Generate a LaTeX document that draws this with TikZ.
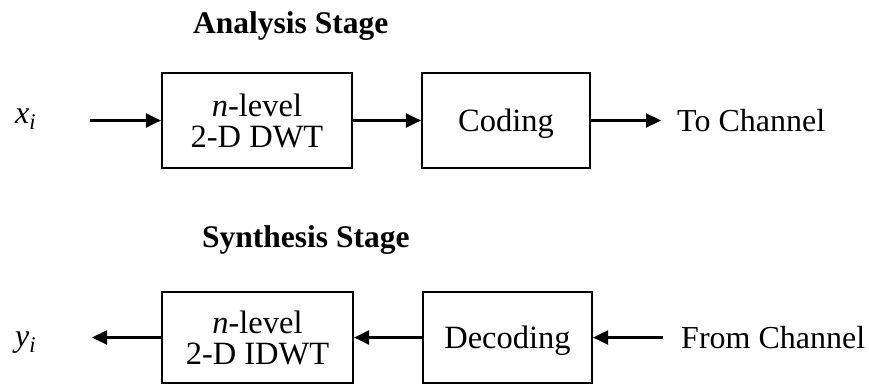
\documentclass[tikz,border=0pt]{standalone}
\usepackage{fontspec}
\setmainfont{Liberation Serif}
\usetikzlibrary{arrows.meta}
\begin{document}
\begin{tikzpicture}[x=1pt,y=-1pt,
  block/.style={draw, line width=2.2pt, inner sep=0pt, align=center,
    font=\fontsize{32.5}{31}\selectfont},
  oneline/.style={text depth=0pt},
  lbl/.style={inner sep=0pt, font=\fontsize{32}{36}\selectfont},
  title/.style={inner sep=0pt, font=\fontsize{31.5}{36}\selectfont\bfseries},
  flow/.style={line width=2.2pt, -{Triangle[length=15pt,width=14pt]}}]
\useasboundingbox (0,0) rectangle (869,388);

% analysis stage
\node[title, anchor=base west] (atitle) at (193,33) {Analysis Stage};
\node[block, minimum width=190pt, minimum height=95pt] (dwt) at (257,120.5) {\textit{n}-level\\2-D DWT};
\node[block, oneline, minimum width=168pt, minimum height=95pt] (cod) at (506,120.5) {Coding};
\node[lbl, anchor=base west] (xi) at (15,123) {\textit{x}\textsubscript{\textit{i}}};
\node[lbl, anchor=base west] (tochan) at (677,131) {To Channel};
\coordinate (xin) at (90,120.5);
\coordinate (xout) at (661,120.5);
\draw[flow] (xin) -- (dwt.west);
\draw[flow] (dwt.east) -- (cod.west);
\draw[flow] (cod.east) -- (xout);

% synthesis stage
\node[title, anchor=base west] (stitle) at (202,247) {Synthesis Stage};
\node[block, minimum width=191pt, minimum height=91pt] (idwt) at (257.5,337.5) {\textit{n}-level\\2-D IDWT};
\node[block, oneline, minimum width=169pt, minimum height=91pt] (dec) at (507.5,337.5) {Decoding};
\node[lbl, anchor=base west] (yi) at (15,346) {\textit{y}\textsubscript{\textit{i}}};
\node[lbl, anchor=base west] (fromchan) at (681,348) {From Channel};
\coordinate (yout) at (92,337.5);
\coordinate (yin) at (663,337.5);
\draw[flow] (yin) -- (dec.east);
\draw[flow] (dec.west) -- (idwt.east);
\draw[flow] (idwt.west) -- (yout);
\end{tikzpicture}
\end{document}
